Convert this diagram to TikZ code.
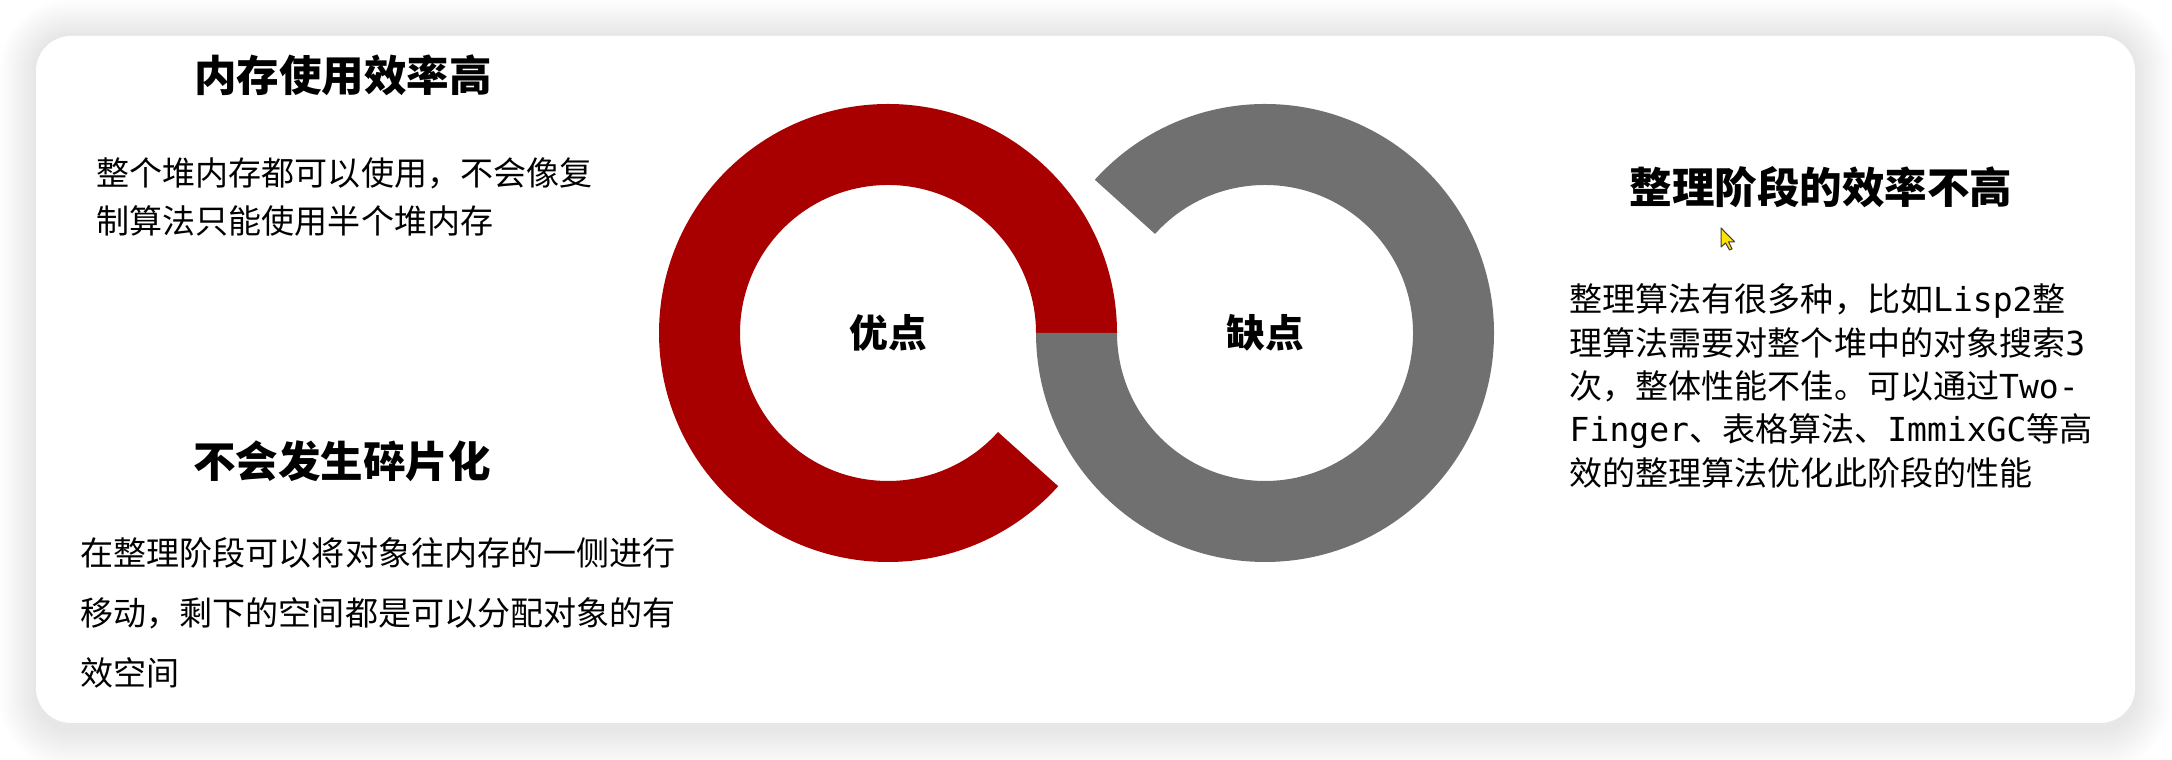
\documentclass[tikz,border=0pt]{standalone}
\usepackage{fontspec}
\setmainfont{Noto Sans CJK SC}
\setmonofont{DejaVu Sans Mono}
\usetikzlibrary{calc}

\definecolor{ringred}{HTML}{A80000}
\definecolor{ringgray}{HTML}{707070}
\tikzset{
  heading/.style={inner sep=0pt, font=\bfseries\fontsize{12.1}{14}\selectfont},
  ringlabel/.style={inner sep=0pt, font=\bfseries\fontsize{11}{13}\selectfont},
  bodytext/.style={anchor=north west, inner sep=0pt, align=left, font=\fontsize{9.4}{#1}\selectfont},
}

\begin{document}
\begin{tikzpicture}
  \useasboundingbox (0,0) rectangle (21.72,7.6);
  \fill[white] (0,0) rectangle (21.72,7.6);
  % soft shadow round the card
  \foreach \s in {1,...,12}{
    \pgfmathsetmacro{\rc}{0.35+\s*0.03}
    \fill[black, opacity=0.0075, rounded corners=\rc cm]
      (0.36-\s*0.03,0.32-\s*0.035) rectangle (21.35+\s*0.03,7.24+\s*0.03);
  }
  \fill[white, rounded corners=0.35cm] (0.36,0.37) rectangle (21.35,7.24);

  % the two rings
  \coordinate (pro) at (8.88,4.27);
  \coordinate (con) at (12.65,4.27);
  \fill[ringred] ($(pro)+(0:2.29)$) arc[start angle=0, end angle=318, radius=2.29]
    -- ($(pro)+(318:1.48)$) arc[start angle=318, end angle=0, radius=1.48] -- cycle;
  \fill[ringgray] ($(con)+(180:2.29)$) arc[start angle=180, end angle=498, radius=2.29]
    -- ($(con)+(138:1.48)$) arc[start angle=138, end angle=-180, radius=1.48] -- cycle;
  \node[ringlabel] (prolabel) at (pro) {优点};
  \node[ringlabel] (conlabel) at (con) {缺点};

  \node[heading] (memhead) at (3.43,6.85) {内存使用效率高};
  \node[bodytext=13.65] (membody) at (0.96,6.03)
    {整个堆内存都可以使用，不会像复\\制算法只能使用半个堆内存};

  \node[heading] (fraghead) at (3.42,2.99) {不会发生碎片化};
  \node[bodytext=17.1] (fragbody) at (0.80,2.23)
    {在整理阶段可以将对象往内存的一侧进行\\移动，剩下的空间都是可以分配对象的有\\效空间};

  \node[heading] (slowhead) at (18.21,5.73) {整理阶段的效率不高};
  \node[bodytext=12.35] (slowbody) at (15.69,4.77)
    {整理算法有很多种，比如\texttt{Lisp2}整\\理算法需要对整个堆中的对象搜索\texttt{3}\\次，整体性能不佳。可以通过\texttt{Two-}\\\texttt{Finger}、表格算法、\texttt{ImmixGC}等高\\效的整理算法优化此阶段的性能};

  % mouse pointer
  \draw[black!75, fill=yellow!85!orange, line join=round, line width=0.3pt]
    (17.21,5.32) -- ++(0,-0.19) -- ++(0.045,0.04) -- ++(0.04,-0.07) -- ++(0.025,0.012)
    -- ++(-0.035,0.07) -- ++(0.06,0) -- cycle;
\end{tikzpicture}
\end{document}
